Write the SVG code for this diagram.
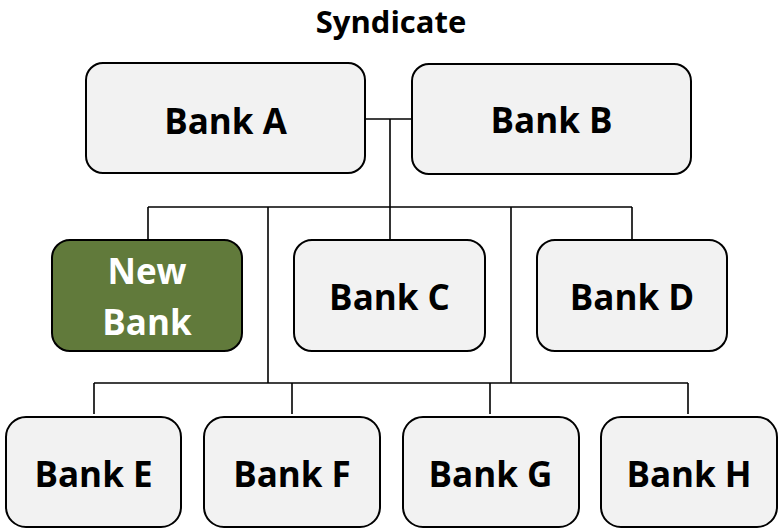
<svg xmlns="http://www.w3.org/2000/svg" width="779" height="529" viewBox="0 0 779 529">
<style>
.box{fill:#F2F2F2;stroke:#000;stroke-width:2}
.green{fill:#617A3B;stroke:#000;stroke-width:2}
.lbl{font-family:"Open Sans","Liberation Sans",sans-serif;font-weight:bold;font-size:35px;fill:#000;text-anchor:middle}
.wlbl{font-family:"Open Sans","Liberation Sans",sans-serif;font-weight:bold;font-size:35px;fill:#fff;text-anchor:middle}
.title{font-family:"Open Sans","Liberation Sans",sans-serif;font-weight:bold;font-size:31px;fill:#000;text-anchor:middle}
.conn{fill:none;stroke:#000;stroke-width:1.6}
</style>
<rect width="779" height="529" fill="#fff"/>
<text class="title" x="391" y="33">Syndicate</text>
<g id="connectors" class="conn">
<path d="M366 119 H411"/>
<path d="M390 119 V239"/>
<path d="M148 207 H632"/>
<path d="M148 207 V239"/>
<path d="M632 207 V239"/>
<path d="M268 207 V383"/>
<path d="M511 207 V383"/>
<path d="M94 383 H688"/>
<path d="M94 383 V414"/>
<path d="M292 383 V414"/>
<path d="M490 383 V414"/>
<path d="M688 383 V414"/>
</g>
<g id="bankA"><rect class="box" x="86" y="63" width="279" height="110" rx="17"/><text class="lbl" x="225.5" y="134">Bank A</text></g>
<g id="bankB"><rect class="box" x="412" y="64" width="279" height="110" rx="17"/><text class="lbl" x="551.5" y="133">Bank B</text></g>
<g id="newBank"><rect class="green" x="52" y="240" width="190" height="111" rx="18"/><text class="wlbl" x="147" y="284">New</text><text class="wlbl" x="147" y="335">Bank</text></g>
<g id="bankC"><rect class="box" x="294" y="240" width="191" height="111" rx="18"/><text class="lbl" x="389.5" y="310">Bank C</text></g>
<g id="bankD"><rect class="box" x="537" y="240" width="190" height="111" rx="18"/><text class="lbl" x="632" y="310">Bank D</text></g>
<g id="bankE"><rect class="box" x="6" y="417" width="175" height="110" rx="20"/><text class="lbl" x="93.5" y="487">Bank E</text></g>
<g id="bankF"><rect class="box" x="204" y="417" width="176" height="110" rx="20"/><text class="lbl" x="292" y="487">Bank F</text></g>
<g id="bankG"><rect class="box" x="403" y="417" width="176" height="110" rx="20"/><text class="lbl" x="490.5" y="487">Bank G</text></g>
<g id="bankH"><rect class="box" x="601" y="417" width="176" height="110" rx="20"/><text class="lbl" x="689" y="487">Bank H</text></g>
</svg>
